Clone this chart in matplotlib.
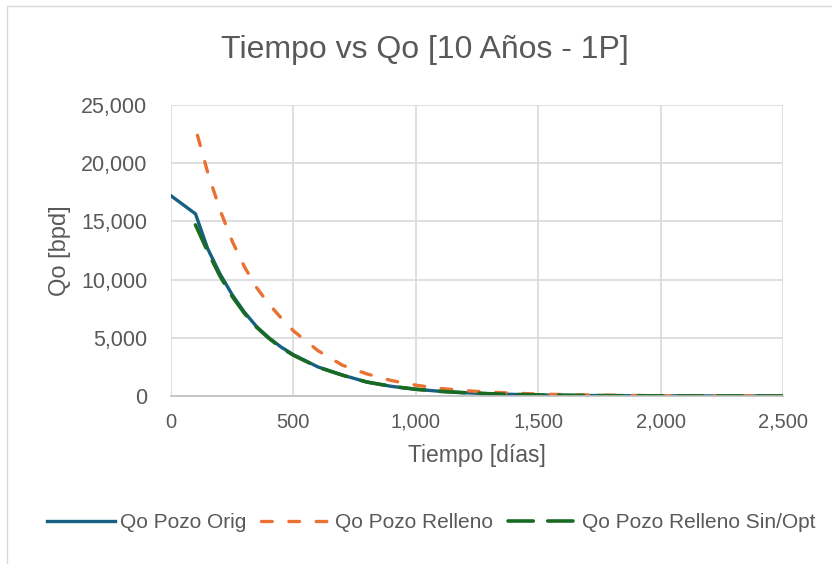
import matplotlib
matplotlib.use('Agg')
import matplotlib.pyplot as plt
from matplotlib.ticker import FuncFormatter, MultipleLocator
from matplotlib.patches import Rectangle

# ----- datos -----
t_orig = [0, 100, 150, 200, 250, 300, 350, 400, 450, 500, 600, 700, 800, 900, 1000,
          1100, 1200, 1300, 1400, 1500, 1600, 1700, 1800, 1900, 2000, 2100, 2200,
          2300, 2400, 2500]
qo_orig = [17200, 15650, 12650, 10500, 8700, 7200, 5950, 5000, 4200, 3550, 2500, 1800,
           1200, 830, 580, 400, 280, 195, 135, 90, 62, 43, 30, 21, 15, 10, 7, 5, 3, 2]

t_rell = [108, 150, 200, 250, 300, 350, 400, 450, 500, 600, 700, 800, 900, 1000, 1100,
          1200, 1300, 1400, 1500, 1600, 1700, 1800, 1900, 2000, 2100, 2200, 2300,
          2400, 2500]
qo_rell = [22400, 19200, 16000, 13300, 11100, 9300, 7900, 6700, 5600, 3900, 2650, 1900,
           1330, 930, 650, 460, 330, 240, 170, 120, 85, 60, 42, 30, 21, 15, 10, 7, 5]

t_sinopt = [100, 150, 200, 250, 300, 350, 400, 450, 500, 600, 700, 800, 900, 1000,
            1100, 1200, 1300, 1400, 1500, 1600, 1700, 1800, 1900, 2000, 2100, 2200,
            2300, 2400, 2500]
qo_sinopt = [14700, 12400, 10300, 8550, 7100, 5900, 4950, 4150, 3500, 2480, 1790, 1200,
             830, 580, 400, 280, 195, 135, 90, 62, 43, 30, 21, 15, 10, 7, 5, 3, 2]

# colores tipo Excel
C_BLUE = '#156082'
C_ORANGE = '#E97132'
C_GREEN = '#196B24'
C_TEXT = '#595959'
C_GRID = '#D9D9D9'

plt.rcParams['font.family'] = ['Liberation Sans', 'DejaVu Sans']

fig = plt.figure(figsize=(8.32, 5.64), dpi=100)
# borde del area del grafico (cortado a la derecha y abajo)
fig.patches.append(Rectangle((7 / 832, -0.1), 1.2, 1.1 - 6 / 564,
                             transform=fig.transFigure, fill=False,
                             edgecolor=C_GRID, linewidth=1.0))

ax = fig.add_axes([171 / 832, 1 - 396 / 564, (783 - 171) / 832, (396 - 105) / 564])

ax.plot(t_orig, qo_orig, color=C_BLUE, linewidth=2.4, label='Qo Pozo Orig',
        solid_joinstyle='round')
ax.plot(t_rell, qo_rell, color=C_ORANGE, linewidth=2.4, label='Qo Pozo Relleno',
        dashes=(3.2, 5), dash_capstyle='round')
ax.plot(t_sinopt, qo_sinopt, color=C_GREEN, linewidth=2.6, label='Qo Pozo Relleno Sin/Opt',
        dashes=(7, 4), dash_capstyle='round')

ax.set_xlim(0, 2500)
ax.set_ylim(0, 25000)
ax.xaxis.set_major_locator(MultipleLocator(500))
ax.yaxis.set_major_locator(MultipleLocator(5000))
fmt = FuncFormatter(lambda v, p: f'{v:,.0f}')
ax.xaxis.set_major_formatter(fmt)
ax.yaxis.set_major_formatter(fmt)

ax.grid(True, color=C_GRID, linewidth=1.2)
ax.set_axisbelow(True)
for s in ['top', 'right', 'left']:
    ax.spines[s].set_visible(False)
ax.spines['bottom'].set_color('#BFBFBF')
ax.spines['bottom'].set_linewidth(1.2)
ax.tick_params(axis='x', length=0, labelsize=14.5, colors=C_TEXT, pad=12)
ax.tick_params(axis='y', length=0, labelsize=15.5, colors=C_TEXT, pad=17)

ax.set_xlabel('Tiempo [días]', fontsize=16.5, color=C_TEXT, labelpad=9)
ax.set_ylabel('Qo [bpd]', fontsize=17, color=C_TEXT, labelpad=7)

fig.text(425 / 832, 1 - 50 / 564, 'Tiempo vs Qo [10 Años - 1P]', fontsize=23,
         color=C_TEXT, ha='center', va='center')

fig.legend(loc='center', bbox_to_anchor=(431 / 832, 1 - 523 / 564), ncol=3,
           frameon=False, fontsize=15, labelcolor=C_TEXT, handlelength=3.3,
           handletextpad=0.25, columnspacing=0.7)

fig.savefig('out.png', dpi=100)
